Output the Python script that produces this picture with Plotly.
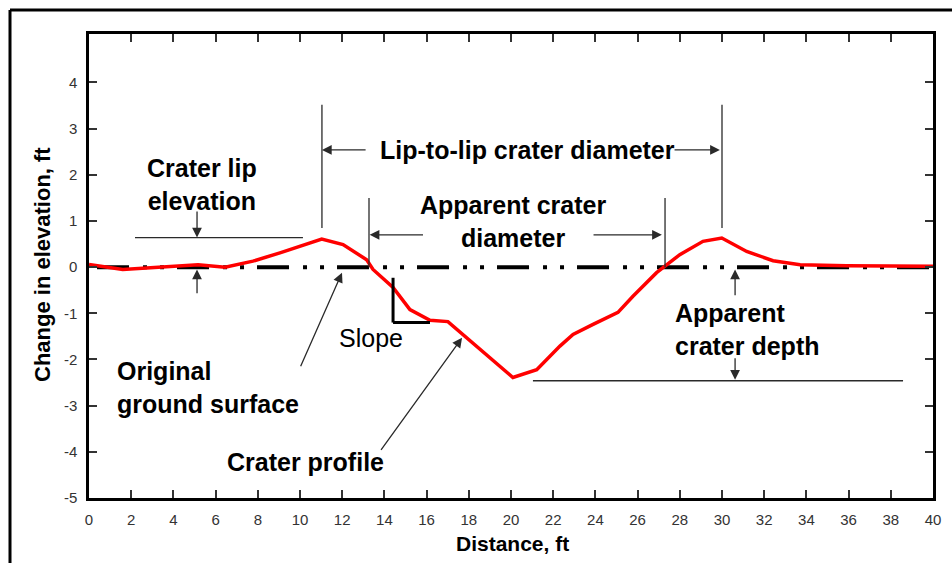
import plotly.graph_objects as go

# ---- data ----
distance_ft = [0.0, 1.6, 5.17, 6.45, 7.77, 9.05, 11.03, 12.04, 13.16, 13.46, 14.41, 15.21,
               16.16, 17.01, 20.09, 21.22, 22.32, 22.94, 23.89, 25.07, 25.78, 26.9, 28.0,
               29.1, 29.99, 31.17, 32.42, 33.7, 35.9, 38.28, 40.0]
elevation_change_ft = [0.06, -0.05, 0.05, 0.0, 0.13, 0.31, 0.61, 0.49, 0.16, -0.05, -0.44, -0.92,
                       -1.15, -1.18, -2.39, -2.22, -1.71, -1.46, -1.24, -0.98, -0.63, -0.12, 0.27,
                       0.56, 0.63, 0.34, 0.14, 0.05, 0.03, 0.02, 0.02]
ground_x = [0.38, 40.0]
ground_y = [0.0, 0.0]
x_ticks = list(range(0, 41, 2))
y_ticks = list(range(-5, 5))

FONT = "Liberation Sans, Arial, sans-serif"
LINE = "#2a2a2a"
TXT = 25

fig = go.Figure()
fig.add_trace(go.Scatter(x=ground_x, y=ground_y, mode="lines",
                         line=dict(color="black", width=4,
                                   dash="32px,14px,4px,13px,4px,13px"),
                         hoverinfo="skip", showlegend=False))
fig.add_trace(go.Scatter(x=distance_ft, y=elevation_change_ft, mode="lines",
                         line=dict(color="#ff0000", width=3.5),
                         showlegend=False))

shapes = []
def seg(x0, y0, x1, y1, w=1.3, c=LINE):
    shapes.append(dict(type="line", xref="x", yref="y", x0=x0, y0=y0, x1=x1, y1=y1,
                       line=dict(color=c, width=w)))

# lip-to-lip verticals
seg(11.04, 0.85, 11.04, 3.52)
seg(30.0, 0.85, 30.0, 3.52)
# apparent diameter verticals
seg(13.27, 0.0, 13.27, 1.5)
seg(27.3, 0.0, 27.3, 1.5)
# crater lip reference line
seg(2.18, 0.64, 10.14, 0.64)
# apparent depth reference line
seg(21.04, -2.46, 38.58, -2.46)
# slope symbol
seg(14.41, -0.23, 14.41, -1.2, w=3, c="black")
seg(14.41, -1.2, 16.16, -1.2, w=3, c="black")

# outer frame (left and top edges)
shapes.append(dict(type="line", xref="paper", yref="paper",
                   x0=(10 - 89) / 844, x1=(10 - 89) / 844, y0=(498 - 10) / 464, y1=(498 - 570) / 464,
                   line=dict(color="black", width=3)))
shapes.append(dict(type="line", xref="paper", yref="paper",
                   x0=(10 - 89) / 844, x1=(960 - 89) / 844, y0=(498 - 10) / 464, y1=(498 - 10) / 464,
                   line=dict(color="black", width=3)))

annotations = []
def arrow(hx, hy, tx, ty):
    annotations.append(dict(x=hx, y=hy, ax=tx, ay=ty, xref="x", yref="y", axref="x", ayref="y",
                            text="", showarrow=True, arrowhead=2, arrowsize=1.5,
                            arrowwidth=1.3, arrowcolor=LINE, standoff=0, startstandoff=0))

def label(x, y, txt, size=TXT, bold=True, xanchor="center"):
    annotations.append(dict(x=x, y=y, xref="x", yref="y", text=txt, showarrow=False,
                            xanchor=xanchor, yanchor="middle",
                            font=dict(family=FONT, size=size, color="black",
                                      weight="bold" if bold else "normal")))

arrow(11.04, 2.54, 13.18, 2.54)
arrow(29.9, 2.54, 27.68, 2.54)
label(20.8, 2.54, "Lip-to-lip crater diameter")

arrow(13.3, 0.70, 15.9, 0.70)
arrow(27.15, 0.70, 23.84, 0.70)
label(20.1, 0.98, "Apparent crater<br>diameter")

label(5.36, 1.78, "Crater lip<br>elevation")
arrow(5.12, 0.64, 5.12, 1.24)
arrow(5.12, -0.05, 5.12, -0.6)

annotations.append(dict(x=1.23, y=-2.6, xref="x", yref="y", text="Original<br>ground surface",
                        showarrow=False, xanchor="left", yanchor="middle", align="left",
                        font=dict(family=FONT, size=TXT, color="black", weight="bold")))
arrow(11.99, -0.12, 10.0, -2.18)

label(13.36, -1.53, "Slope", size=TXT, bold=False)

label(10.28, -4.21, "Crater profile")
arrow(17.68, -1.53, 13.79, -3.99)

annotations.append(dict(x=27.68, y=-1.35, xref="x", yref="y", text="Apparent<br>crater depth",
                        showarrow=False, xanchor="left", yanchor="middle", align="left",
                        font=dict(family=FONT, size=TXT, color="black", weight="bold")))
arrow(30.62, -0.05, 30.62, -0.64)
arrow(30.62, -2.44, 30.62, -1.94)

# axis titles
annotations.append(dict(x=(42 - 89) / 844, y=(498 - 265) / 464, xref="paper", yref="paper",
                        xanchor="center", yanchor="middle",
                        text="Change in elevation, ft", textangle=-90, showarrow=False,
                        font=dict(family=FONT, size=22, color="black", weight="bold")))
annotations.append(dict(x=(512 - 89) / 844, y=(498 - 543) / 464, xref="paper", yref="paper",
                        xanchor="center", yanchor="middle",
                        text="Distance, ft", showarrow=False,
                        font=dict(family=FONT, size=21, color="black", weight="bold")))

axis_common = dict(showline=True, linecolor="black", linewidth=2.5, mirror="ticks",
                   ticks="inside", ticklen=8, tickwidth=1.5, tickcolor="#333",
                   showgrid=False, zeroline=False, ticklabelstandoff=6,
                   tickfont=dict(family=FONT, size=15, color="#333"))

fig.update_layout(
    width=952, height=563,
    margin=dict(l=89, r=19, t=34, b=65),
    paper_bgcolor="white", plot_bgcolor="white",
    xaxis=dict(range=[0, 40], tickvals=x_ticks, ticktext=[str(v) for v in x_ticks], **axis_common),
    yaxis=dict(range=[-5, 5.05], tickvals=y_ticks, ticktext=[str(v) for v in y_ticks], **axis_common),
    shapes=shapes, annotations=annotations, showlegend=False,
)

fig.write_html("out.html", config={"displayModeBar": False},
               post_script="document.body.style.margin='0px';")
